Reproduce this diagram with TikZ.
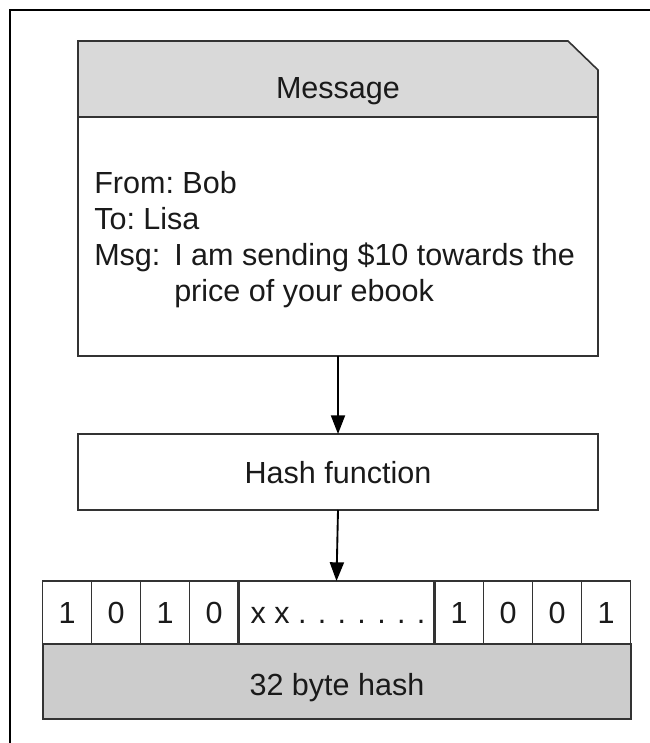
\documentclass[tikz,border=0pt]{standalone}
\usepackage{fontspec}
\setmainfont{Liberation Sans}
\usetikzlibrary{arrows.meta}
\definecolor{linec}{HTML}{333333}
\definecolor{headfill}{HTML}{D9D9D9}
\definecolor{hashfill}{HTML}{CCCCCC}
\definecolor{textc}{HTML}{1A1A1A}
\frenchspacing
\begin{document}
\begin{tikzpicture}[x=0.75pt,y=-0.75pt,
  font=\fontsize{22.9}{27}\selectfont,
  every node/.style={text=textc},
  box/.style={draw=linec, line width=1.2pt, fill=white, outer sep=0pt, inner sep=0pt},
  cell/.style={draw=linec, line width=0.9pt, fill=white, outer sep=0pt, inner sep=0pt,
               minimum width={49*0.75pt}, minimum height={63*0.75pt}, anchor=north west},
  linetext/.style={anchor=base west, inner sep=0pt},
  ctext/.style={anchor=base, inner sep=0pt},
  arr/.style={-{Triangle[length=14pt,width=10.5pt]}, line width=1.4pt, black}
]
\useasboundingbox (0,0) rectangle (650,743);
\fill[white] (0,0) rectangle (650,743);
% outer frame (clipped at right and bottom)
\draw[line width=2.2pt, black] (650,10) -- (10,10) -- (10,743);

% Message box
\node[box, minimum width={520*0.75pt}, minimum height={239*0.75pt}, anchor=north west] (msgbody) at (78,117) {};
\draw[fill=headfill, draw=linec, line width=1.2pt, line join=miter]
  (78,117) -- (78,41) -- (568,41) -- (598,70) -- (598,117) -- cycle;
\node[ctext] (msgtitle) at (338,98) {Message};
\node[linetext] (lfrom) at (94,193) {From: Bob};
\node[linetext] (lto) at (94,229) {To: Lisa};
\node[linetext] (lmsg) at (94,265) {Msg:};
\node[linetext] (lmsgtxt) at (174,265) {I am sending \$10 towards the};
\node[linetext] (lprice) at (174,301) {price of your ebook};

% Hash function box
\node[box, minimum width={520*0.75pt}, minimum height={76*0.75pt}, anchor=north west] (hash) at (78,434) {};
\node[ctext] (hashtext) at (338,483) {Hash function};

% Hash row
\node[cell] (c1) at (42.5,581) {};
\node[cell] (c2) at (91.5,581) {};
\node[cell] (c3) at (140.5,581) {};
\node[cell] (c4) at (189.5,581) {};
\node[cell, minimum width={196*0.75pt}] (mid) at (238.5,581) {};
\node[cell] (c5) at (434.5,581) {};
\node[cell] (c6) at (483.5,581) {};
\node[cell] (c7) at (532.5,581) {};
\node[cell] (c8) at (581.5,581) {};
\draw[linec, line width=1.7pt] (mid.north west) -- (mid.south west);
\draw[linec, line width=1.7pt] (mid.north east) -- (mid.south east);
\node[ctext] (t1) at (67,623) {1};
\node[ctext] (t2) at (116,623) {0};
\node[ctext] (t3) at (165,623) {1};
\node[ctext] (t4) at (214,623) {0};
\node[ctext] (tm) at (338,623) {\nonfrenchspacing x x . . . . . . .};
\node[ctext] (t5) at (459,623) {1};
\node[ctext] (t6) at (508,623) {0};
\node[ctext] (t7) at (557,623) {0};
\node[ctext] (t8) at (606,623) {1};

\node[draw=linec, line width=1.5pt, fill=hashfill, outer sep=0pt, inner sep=0pt,
      minimum width={588*0.75pt}, minimum height={75*0.75pt}, anchor=north west] (hashlabel) at (42.5,644) {};
\node[ctext] (hashlabeltext) at (337,695) {32 byte hash};

% arrows
\draw[arr] (msgbody.south) -- (hash.north);
\draw[arr] (hash.south) -- (mid.north);
\end{tikzpicture}
\end{document}
